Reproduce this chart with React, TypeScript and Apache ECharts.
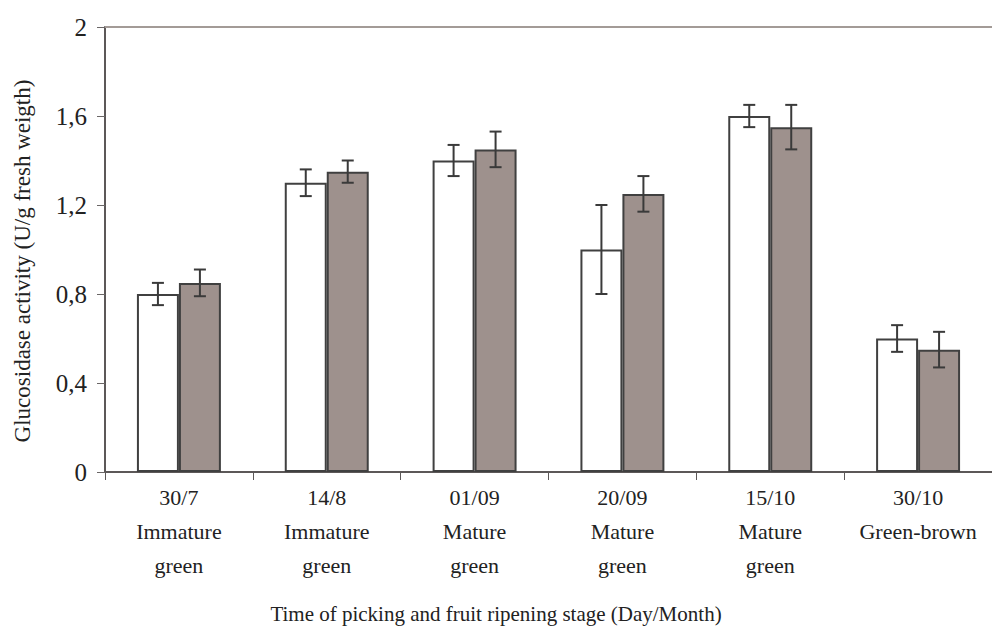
import React, { useEffect, useRef } from "react";
import * as echarts from "echarts";

const dates = ["30/7", "14/8", "01/09", "20/09", "15/10", "30/10"];
const stages = ["Immature\ngreen", "Immature\ngreen", "Mature\ngreen", "Mature\ngreen", "Mature\ngreen", "Green-brown"];
const whiteValues = [0.8, 1.3, 1.4, 1.0, 1.6, 0.6];
const whiteErrors = [0.05, 0.06, 0.07, 0.2, 0.05, 0.06];
const grayValues = [0.85, 1.35, 1.45, 1.25, 1.55, 0.55];
const grayErrors = [0.06, 0.05, 0.08, 0.08, 0.1, 0.08];
const yTicks = [0, 0.4, 0.8, 1.2, 1.6, 2];

const FONT = "'Liberation Serif', 'Times New Roman', serif";
const BAR_FRAC = 0.284;

function errorSeries(values: number[], errors: number[], side: number) {
  return {
    type: "custom",
    z: 10,
    data: values.map((v, i) => [i, v, errors[i]]),
    encode: { x: 0, y: 1 },
    renderItem: (params: any, api: any) => {
      const i = api.value(0);
      const v = api.value(1);
      const e = api.value(2);
      const band = api.size([1, 0])[0];
      const off = side * band * BAR_FRAC * 0.5;
      const hi = api.coord([i, v + e]);
      const lo = api.coord([i, v - e]);
      const x = hi[0] + off;
      const cap = 6;
      const style = { stroke: "#3a3a3a", lineWidth: 2 };
      return {
        type: "group",
        children: [
          { type: "line", shape: { x1: x, y1: hi[1], x2: x, y2: lo[1] }, style },
          { type: "line", shape: { x1: x - cap, y1: hi[1], x2: x + cap, y2: hi[1] }, style },
          { type: "line", shape: { x1: x - cap, y1: lo[1], x2: x + cap, y2: lo[1] }, style },
        ],
      };
    },
  };
}

export default function App() {
  const ref = useRef<HTMLDivElement>(null);
  useEffect(() => {
    document.body.style.margin = "0";
    const chart = echarts.init(ref.current!, null, { renderer: "svg" });
    const categories = dates.map((d, i) => d + "\n" + stages[i]);
    chart.setOption({
      animation: false,
      backgroundColor: "#ffffff",
      textStyle: { fontFamily: FONT, fontWeight: "normal", fontStyle: "normal" },
      grid: { left: 105, right: 0, top: 27, bottom: 168, containLabel: false },
      title: {
        text: "Time of picking and fruit ripening stage (Day/Month)",
        left: "center",
        top: 598,
        textStyle: { fontFamily: FONT, fontSize: 21, fontWeight: "normal", color: "#222" },
      },
      graphic: [
        {
          type: "text",
          x: 22,
          y: 261,
          rotation: Math.PI / 2,
          style: {
            text: "Glucosidase activity (U/g fresh weigth)",
            fontFamily: FONT,
            fontSize: 23,
            fill: "#222",
            align: "center",
            verticalAlign: "middle",
          },
        },
      ],
      xAxis: {
        type: "category",
        data: categories,
        axisLine: { lineStyle: { color: "#5c5858", width: 2 } },
        axisTick: { show: true, length: 8, lineStyle: { color: "#5c5858", width: 1 } },
        axisLabel: {
          fontFamily: FONT,
          fontSize: 22,
          fontWeight: "normal",
          fontStyle: "normal",
          color: "#222",
          lineHeight: 34,
          margin: 8,
          interval: 0,
          hideOverlap: false,
        },
      },
      yAxis: {
        type: "value",
        min: 0,
        max: 2,
        interval: 0.4,
        axisLine: { show: true, lineStyle: { color: "#5c5858", width: 2 } },
        axisTick: { show: true, length: 8, inside: false, lineStyle: { color: "#6a6666", width: 1 } },
        splitLine: { show: false },
        axisLabel: {
          fontFamily: FONT,
          fontSize: 25,
          color: "#222",
          margin: 18,
          customValues: yTicks,
          formatter: (v: number) => String(Math.round(v * 10) / 10).replace(".", ","),
        },
      },
      series: [
        {
          type: "bar",
          data: whiteValues,
          barWidth: BAR_FRAC * 100 + "%",
          barGap: "0%",
          itemStyle: { color: "#ffffff", borderColor: "#404040", borderWidth: 2 },
          markLine: {
            silent: true,
            symbol: "none",
            label: { show: false },
            lineStyle: { color: "#a39b97", width: 2, type: "solid" },
            data: [{ yAxis: 2 }],
          },
        },
        {
          type: "bar",
          data: grayValues,
          barWidth: BAR_FRAC * 100 + "%",
          barGap: "0%",
          itemStyle: { color: "#9e918d", borderColor: "#404040", borderWidth: 2 },
        },
        errorSeries(whiteValues, whiteErrors, -1),
        errorSeries(grayValues, grayErrors, 1),
      ],
    });
    return () => chart.dispose();
  }, []);
  return <div ref={ref} style={{ width: 992, height: 640 }} />;
}
